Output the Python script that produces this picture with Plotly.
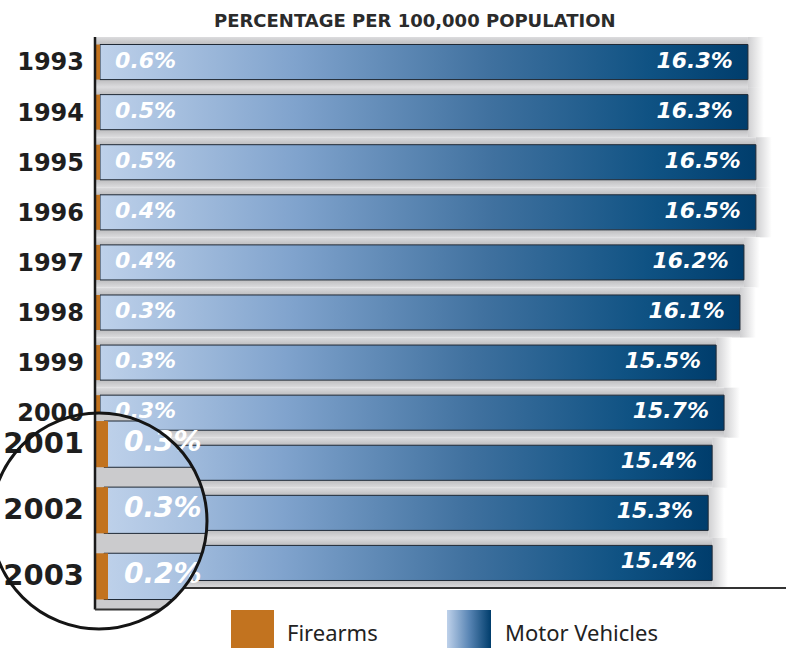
import base64
import numpy as np
import plotly.graph_objects as go

years = ["1993", "1994", "1995", "1996", "1997", "1998", "1999", "2000", "2001", "2002", "2003"]
firearms = [0.6, 0.5, 0.5, 0.4, 0.4, 0.3, 0.3, 0.3, 0.3, 0.3, 0.2]
motor_vehicles = [16.3, 16.3, 16.5, 16.5, 16.2, 16.1, 15.5, 15.7, 15.4, 15.3, 15.4]
series_names = ["Firearms", "Motor Vehicles"]
chart_title = "PERCENTAGE PER 100,000 POPULATION"
magnified = ["2001", "2002", "2003"]  # rows seen through the magnifier

# page geometry (pixels)
W, H = 791, 648
L, R, T = 95, 5, 37
ROWS_BOTTOM = 588      # bottom of the last row / x axis line
PLOT_BOTTOM = 614      # plot area goes a bit lower so the lens is not clipped
B = H - PLOT_BOTTOM
PW, PH = W - L - R, PLOT_BOTTOM - T
ZERO_PX = 100          # where 0% sits
UNIT_PX = 39.75        # pixels per 1%
XMIN = (L - ZERO_PX) / UNIT_PX
XMAX = XMIN + PW / UNIT_PX
N = len(years)
ROW_PX = (ROWS_BOTTOM - T) / N


def x_of(px):
    return (px - ZERO_PX) / UNIT_PX


def y_of(py):
    return (py - T) / ROW_PX - 0.5


def px_of_y(y):
    return T + (y + 0.5) * ROW_PX


def xpaper(px):
    return (px - L) / PW


def ypaper(py):
    return (PLOT_BOTTOM - py) / PH


ORANGE = "#c2731f"
BLUES = [[0, "#bed1ea"], [0.3, "#80a3cd"], [0.6, "#40719f"], [0.85, "#0f5283"], [1, "#003d6c"]]
GREYS = [[0, "#dcdcde"], [0.15, "#bdbdbf"], [0.85, "#bdbdbf"], [1, "#dcdcde"]]
OUTLINE = "#1f2935"
LABEL_FONT = dict(family="DejaVu Sans", size=22, color="white", weight="bold", style="italic")

# magnifier
LENS_CX, LENS_CY, LENS_R, MAG = 99, 521, 108, 1.32
lcx, lcy = x_of(LENS_CX), y_of(LENS_CY)
rx, ry = LENS_R / UNIT_PX, LENS_R / ROW_PX


def mag_y(y):
    return lcy + (y - lcy) * MAG


def mag_x(x):
    return x_of(104) + x * MAG


def lens_dx(py):
    return np.sqrt(max(LENS_R ** 2 - (py - LENS_CY) ** 2, 0))


def lens_clip(ya, yb, xend, xstart):
    ya, yb = max(ya, lcy - ry * 0.999), min(yb, lcy + ry * 0.999)
    ys = np.linspace(ya, yb, 60)
    xr = np.minimum(lcx + rx * np.sqrt(1 - ((ys - lcy) / ry) ** 2), xend)
    return [xstart, *xr, xstart, xstart], [ya, *ys, yb, ya]


fig = go.Figure()

# grey track / drop shadow behind each bar
for i, v in enumerate(motor_vehicles):
    fig.add_trace(go.Scatter(x=[XMIN, v, v, XMIN], y=[i - 0.5, i - 0.5, i + 0.5, i + 0.5],
                             fill="toself", mode="none",
                             fillgradient=dict(type="vertical", colorscale=GREYS)))
    fig.add_trace(go.Scatter(x=[v, v + 0.4, v + 0.4, v], y=[i - 0.5, i - 0.5, i + 0.5, i + 0.5],
                             fill="toself", mode="none",
                             fillgradient=dict(type="horizontal",
                                               colorscale=[[0, "#cfcfd1"], [1, "#ffffff"]])))

# motor vehicle bars
for i, v in enumerate(motor_vehicles):
    fig.add_trace(go.Scatter(x=[0, v, v, 0, 0], y=[i - 0.35, i - 0.35, i + 0.35, i + 0.35, i - 0.35],
                             fill="toself", mode="lines", line=dict(color=OUTLINE, width=1),
                             fillgradient=dict(type="horizontal", colorscale=BLUES)))

# firearms markers + labels (rows under the magnifier are drawn by the lens below)
plain = [i for i, y in enumerate(years) if y not in magnified]
fig.add_trace(go.Scatter(x=[x_of(98)] * len(plain), y=plain, mode="markers",
                         marker=dict(symbol="line-ns", size=25, line=dict(color=ORANGE, width=4))))
fig.add_trace(go.Scatter(x=[0.38] * len(plain), y=plain, mode="text",
                         text=[f"{firearms[i]}%" for i in plain], textposition="middle right",
                         textfont=LABEL_FONT))
fig.add_trace(go.Scatter(x=[v - 0.38 for v in motor_vehicles], y=list(range(N)), mode="text",
                         text=[f"{v}%" for v in motor_vehicles], textposition="middle left",
                         textfont=LABEL_FONT))

# what the magnifier shows (on an overlay so it sits above everything else)
lens = dict(xaxis="x2", yaxis="y2")
bottom = mag_y(N - 0.5)
gx, gy = lens_clip(lcy - ry, bottom, XMAX, XMIN)
fig.add_trace(go.Scatter(x=gx, y=gy, fill="toself", mode="none", fillcolor="#cbcbcd", **lens))
mag_rows = [years.index(y) for y in magnified]
for i in mag_rows:
    v = motor_vehicles[i]
    bx, by = lens_clip(mag_y(i - 0.35), mag_y(i + 0.35), mag_x(v), mag_x(0))
    fig.add_trace(go.Scatter(x=bx, y=by, fill="toself", mode="lines", line=dict(color=OUTLINE, width=1),
                             fillgradient=dict(type="horizontal", colorscale=BLUES,
                                               start=mag_x(0), stop=mag_x(v)), **lens))
fig.add_trace(go.Scatter(x=[x_of(102)] * len(mag_rows), y=[mag_y(i) for i in mag_rows], mode="markers",
                         marker=dict(symbol="line-ns", size=33, line=dict(color=ORANGE, width=12)), **lens))
fig.add_trace(go.Scatter(x=[mag_x(0.38)] * len(mag_rows), y=[mag_y(i) for i in mag_rows], mode="text",
                         text=[f"{firearms[i]}%" for i in mag_rows], textposition="middle right",
                         textfont=dict(LABEL_FONT, size=28), **lens))

tickvals = [mag_y(i) if y in magnified else i for i, y in enumerate(years)]
ticktext = [f'<span style="font-size:29px">{y}</span>' if y in magnified else y for y in years]

py_b = px_of_y(bottom)
shapes = [
    dict(type="line", xref="paper", yref="paper", x0=0, x1=0, y0=ypaper(py_b), y1=ypaper(T),
         line=dict(color="#1a1a1a", width=2.5)),
    dict(type="line", xref="paper", yref="paper", x0=xpaper(LENS_CX + lens_dx(ROWS_BOTTOM)), x1=1,
         y0=ypaper(ROWS_BOTTOM), y1=ypaper(ROWS_BOTTOM), line=dict(color="#333333", width=2)),
    dict(type="line", xref="paper", yref="paper", x0=0, x1=xpaper(LENS_CX + lens_dx(py_b)),
         y0=ypaper(py_b), y1=ypaper(py_b), line=dict(color="#333333", width=2)),
    dict(type="circle", xref="paper", yref="paper",
         x0=xpaper(LENS_CX - LENS_R), x1=xpaper(LENS_CX + LENS_R),
         y0=ypaper(LENS_CY + LENS_R), y1=ypaper(LENS_CY - LENS_R),
         line=dict(color="#151515", width=3)),
    dict(type="rect", xref="paper", yref="paper", x0=xpaper(231), x1=xpaper(274),
         y0=ypaper(660), y1=ypaper(610), fillcolor=ORANGE, line=dict(width=0)),
]

svg = ('<svg xmlns="http://www.w3.org/2000/svg" width="44" height="50">'
       '<defs><linearGradient id="g"><stop offset="0" stop-color="#bed1ea"/>'
       '<stop offset="0.5" stop-color="#5a86b5"/><stop offset="1" stop-color="#003d6c"/>'
       '</linearGradient></defs><rect width="44" height="50" fill="url(#g)"/></svg>')
swatch = "data:image/svg+xml;base64," + base64.b64encode(svg.encode()).decode()

legend_font = dict(family="Noto Sans", size=22, color="#222222")
annotations = [
    dict(text=f"<b>{chart_title}</b>", xref="paper", yref="paper", x=xpaper(415), y=ypaper(20),
         yanchor="middle", showarrow=False, font=dict(family="DejaVu Sans", size=18, color="#2b2b2b")),
    dict(text=series_names[0], xref="paper", yref="paper", x=xpaper(285), y=ypaper(632),
         xanchor="left", yanchor="middle", showarrow=False, font=legend_font),
    dict(text=series_names[1], xref="paper", yref="paper", x=xpaper(503), y=ypaper(632),
         xanchor="left", yanchor="middle", showarrow=False, font=legend_font),
]

yrange = [y_of(PLOT_BOTTOM), -0.5]
fig.update_layout(
    width=W, height=H, margin=dict(l=L, r=R, t=T, b=B, autoexpand=False),
    showlegend=False, hovermode=False,
    plot_bgcolor="white", paper_bgcolor="white",
    xaxis=dict(range=[XMIN, XMAX], visible=False),
    xaxis2=dict(range=[XMIN, XMAX], visible=False, overlaying="x"),
    yaxis=dict(range=yrange, tickvals=tickvals, ticktext=ticktext, showgrid=False, automargin=False,
               zeroline=False, showline=False, ticks="", ticklabelstandoff=10,
               tickfont=dict(family="DejaVu Sans", size=24, color="#1e1e1e", weight="bold")),
    yaxis2=dict(range=yrange, visible=False, overlaying="y"),
    shapes=shapes, annotations=annotations,
    images=[dict(source=swatch, xref="paper", yref="paper", x=xpaper(447), y=ypaper(610),
                 sizex=xpaper(491) - xpaper(447), sizey=ypaper(610) - ypaper(660),
                 xanchor="left", yanchor="top", sizing="stretch", layer="above")],
)

fig.write_html("out.html", config={"displayModeBar": False},
               post_script="document.body.style.margin = '0';")
